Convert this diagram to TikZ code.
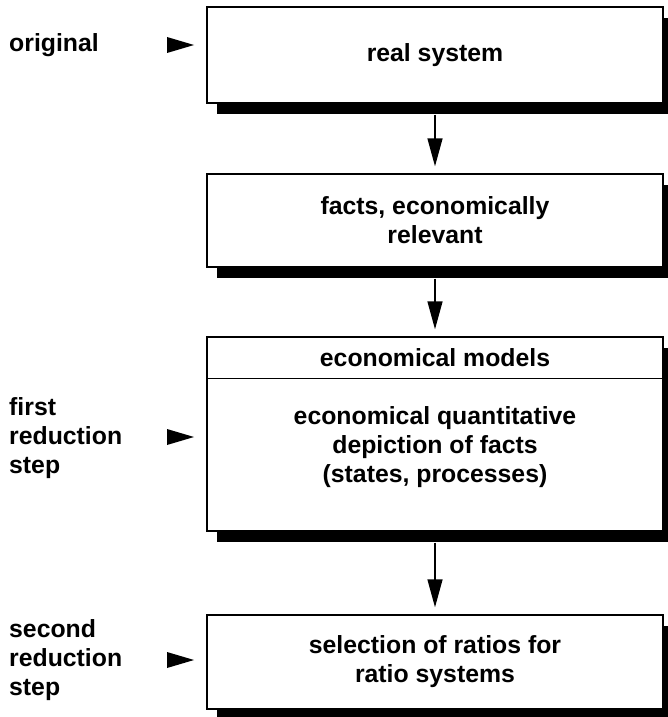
\documentclass[tikz,border=0pt]{standalone}
\usepackage{fontspec}
\setmainfont{Liberation Sans}
\usetikzlibrary{arrows.meta,shadows}

\tikzset{
  lbl/.style={font=\fontsize{24.8}{29}\selectfont\bfseries, align=center, inner sep=0pt},
  box/.style={draw, line width=1.4pt, fill=white, minimum width=456pt, lbl,
    drop shadow={shadow xshift=10pt, shadow yshift=-11pt, opacity=1, fill=black}},
  flow/.style={line width=1.4pt, -{Triangle[length=28pt,width=15pt]}, shorten >=7pt}
}

\begin{document}
\begin{tikzpicture}[x=1pt,y=-1pt]
\useasboundingbox (0,0) rectangle (667,717);

% the four boxes
\node[box, minimum height=96pt] (real) at (435,55) {real system};
\node[box, minimum height=93pt] (facts) at (435,220.5) {facts, economically\\relevant};
\node[box, minimum height=194pt] (models) at (435,434) {};
\node[box, minimum height=94pt] (ratios) at (435,662) {selection of ratios for\\ratio systems};

% header of the model box
\draw[line width=1.4pt] ([yshift=-42pt]models.north west) -- ([yshift=-42pt]models.north east);
\node[lbl] (modhead) at (435,358) {economical models};
\node[lbl] (modbody) at (435,447) {economical quantitative\\depiction of facts\\(states, processes)};

% arrows between the boxes
\foreach \a/\b in {real/facts, facts/models, models/ratios}
  \draw[flow] ([yshift=-11pt]\a.south) -- (\b.north);

% labels on the left
\node[lbl, align=left, anchor=west] (orig) at (9,45) {original};
\node[lbl, align=left, anchor=west] (first) at (9,438) {first\\reduction\\step};
\node[lbl, align=left, anchor=west] (second) at (9,660) {second\\reduction\\step};

% markers
\foreach \y in {45,437,660}
  \fill (167,\y-8) -- (194,\y) -- (167,\y+8) -- cycle;

\end{tikzpicture}
\end{document}
